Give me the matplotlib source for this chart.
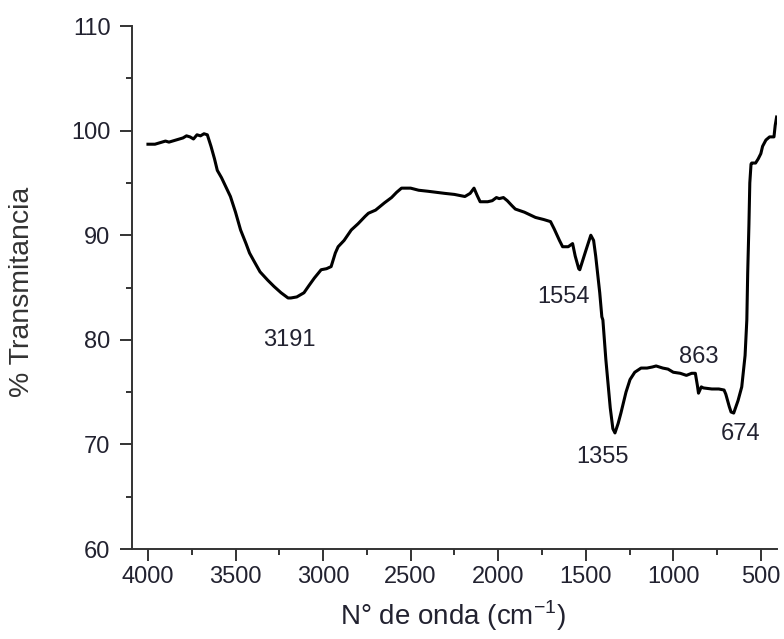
import matplotlib
matplotlib.use("Agg")
import matplotlib.pyplot as plt
from matplotlib.ticker import MultipleLocator

wavenumber = [4000, 3960, 3940, 3920, 3900, 3880, 3860, 3840, 3800, 3780, 3760, 3740, 3720, 3700, 3680, 3661,
              3640, 3620, 3604, 3580, 3560, 3529, 3500, 3471, 3440, 3420, 3397, 3360, 3316, 3280, 3240, 3200,
              3184, 3150, 3109, 3080, 3050, 3011, 2980, 2954, 2930, 2914, 2880, 2839, 2800, 2760, 2741, 2700,
              2649, 2609, 2580, 2552, 2500, 2454, 2400, 2305, 2250, 2190, 2160, 2138, 2120, 2103, 2060, 2034,
              2010, 1994, 1970, 1948, 1920, 1902, 1850, 1787, 1740, 1701, 1680, 1650, 1632, 1600, 1575, 1560,
              1540, 1534, 1500, 1471, 1455, 1443, 1430, 1420, 1408, 1402, 1385, 1360, 1345, 1333, 1315, 1299,
              1270, 1247, 1220, 1184, 1150, 1120, 1098, 1060, 1030, 1000, 960, 925, 895, 874, 862, 856, 840,
              828, 780, 740, 710, 700, 680, 670, 655, 630, 609, 590, 580, 575, 568, 563, 556, 552, 530, 515,
              500, 490, 471, 450, 425, 418, 410]
transmittance = [98.7, 98.7, 98.8, 98.9, 99.0, 98.9, 99.0, 99.1, 99.3, 99.5, 99.4, 99.2, 99.6, 99.5, 99.7, 99.6,
                 98.5, 97.3, 96.2, 95.5, 94.8, 93.7, 92.2, 90.5, 89.2, 88.3, 87.6, 86.5, 85.7, 85.1, 84.5, 84.0,
                 84.0, 84.1, 84.5, 85.2, 85.9, 86.7, 86.8, 87.0, 88.3, 88.9, 89.5, 90.5, 91.1, 91.8, 92.1, 92.4,
                 93.1, 93.6, 94.1, 94.5, 94.5, 94.3, 94.2, 94.0, 93.9, 93.7, 94.0, 94.5, 93.8, 93.2, 93.2, 93.3,
                 93.6, 93.5, 93.6, 93.3, 92.8, 92.5, 92.2, 91.7, 91.5, 91.3, 90.6, 89.5, 88.9, 88.9, 89.2, 88.0,
                 86.8, 86.7, 88.5, 90.0, 89.5, 88.0, 86.0, 84.5, 82.2, 81.9, 78.1, 73.5, 71.5, 71.1, 72.0, 73.0,
                 75.0, 76.2, 76.9, 77.3, 77.3, 77.4, 77.5, 77.3, 77.2, 76.9, 76.8, 76.6, 76.8, 76.8, 75.6, 74.9, 75.5,
                 75.4, 75.3, 75.3, 75.2, 74.8, 73.6, 73.1, 73.0, 74.2, 75.5, 78.5, 81.9, 86.4, 91.0, 95.0, 96.8, 96.9, 96.9, 97.3,
                 97.8, 98.5, 99.1, 99.4, 99.4, 100.5, 101.3]

peak_labels = ["3191", "1554", "1355", "863", "674"]
peak_label_x = [3195, 1627, 1403, 857, 616]
peak_label_y = [80.0, 84.1, 68.8, 78.4, 71.0]

plt.rcParams['font.family'] = ['Liberation Sans', 'DejaVu Sans']
plt.rcParams['mathtext.fontset'] = 'custom'
plt.rcParams['mathtext.rm'] = 'Liberation Sans'

TXT = '#222230'
AX = '#333333'

fig = plt.figure(figsize=(7.84, 6.39), dpi=100)
ax = fig.add_axes([0.1684, 0.1408, 0.991 - 0.1684, 0.9593 - 0.1408])

ax.plot(wavenumber, transmittance, color='black', lw=2.2)

for t, x, y in zip(peak_labels, peak_label_x, peak_label_y):
    ax.text(x, y, t, ha='center', va='center', fontsize=17, color=TXT)

ax.set_xlim(4091, 408)
ax.set_ylim(60, 110)
ax.xaxis.set_major_locator(MultipleLocator(500))
ax.xaxis.set_minor_locator(MultipleLocator(250))
ax.yaxis.set_major_locator(MultipleLocator(10))
ax.yaxis.set_minor_locator(MultipleLocator(5))

for s in ['top', 'right']:
    ax.spines[s].set_visible(False)
for s in ['left', 'bottom']:
    ax.spines[s].set_linewidth(1.4)
    ax.spines[s].set_color(AX)

ax.tick_params(axis='both', which='major', direction='out', length=8.5, width=1.4,
               color=AX, labelsize=17, labelcolor=TXT)
ax.tick_params(axis='y', which='major', pad=7)
ax.tick_params(axis='x', which='major', pad=4)
ax.tick_params(axis='both', which='minor', direction='out', length=4.5, width=1.4, color=AX)

fig.text(0.028, 0.543, '% Transmitancia', rotation=90, ha='center', va='center',
         fontsize=20.5, color='#333333')
fig.text(0.578, 0.036, 'N° de onda (cm$^{\\mathregular{-1}}$)', ha='center', va='center',
         fontsize=20, color=TXT)

fig.savefig('out.png', dpi=100)
